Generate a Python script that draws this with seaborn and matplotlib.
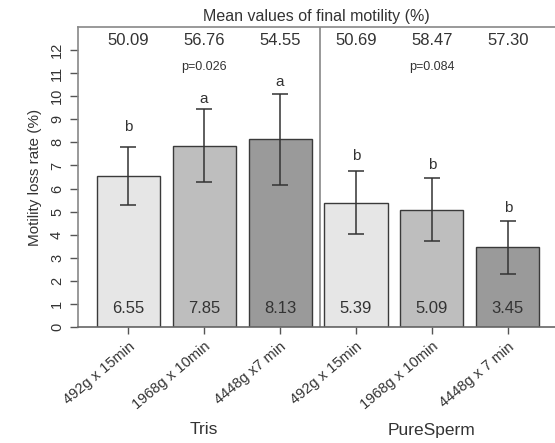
import pandas as pd
import numpy as np
import seaborn as sns
import matplotlib.pyplot as plt
from matplotlib.transforms import blended_transform_factory

# ---------------------------------------------------------------
# DATA
# ---------------------------------------------------------------
media = ["Tris", "PureSperm"]
conditions = ["492g x 15min", "1968g x 10min", "4448g x7 min",
              "492g x 15min", "1968g x 10min", "4448g x 7 min"]
loss_rate = [6.55, 7.85, 8.13, 5.39, 5.09, 3.45]
loss_err = [1.25, 1.58, 1.98, 1.37, 1.37, 1.15]
letters = ["b", "a", "a", "b", "b", "b"]
letter_y = [8.65, 9.9, 10.6, 7.4, 7.0, 5.15]
final_motility = ["50.09", "56.76", "54.55", "50.69", "58.47", "57.30"]
p_values = ["p=0.026", "p=0.084"]
bar_colors = ["#e6e6e6", "#bebebe", "#9a9a9a", "#e6e6e6", "#bebebe", "#9a9a9a"]

df = pd.DataFrame({
    "bar": [f"{m}|{c}" for m, c in zip(np.repeat(media, 3), conditions)],
    "loss": loss_rate,
})

# ---------------------------------------------------------------
# PLOT
# ---------------------------------------------------------------
sns.set_style("white")
plt.rcParams["font.family"] = ["Liberation Sans", "DejaVu Sans"]

fig = plt.figure(figsize=(5.55, 4.43), dpi=100)
ax = fig.add_axes([78 / 555, 1 - 327 / 443, 477 / 555, 300 / 443])

sns.barplot(data=df, x="bar", y="loss", hue="bar", palette=bar_colors,
            width=0.83, edgecolor="#3a3a3a", linewidth=1.0,
            errorbar=None, legend=False, ax=ax)

x = np.arange(len(loss_rate))
ax.errorbar(x, loss_rate, yerr=loss_err, fmt="none", ecolor="#333333",
            elinewidth=1.1, capsize=5.5, capthick=1.1)

ax.set_xlim(-0.66, 5.62)
ax.set_ylim(0, 13)
ax.set_yticks(range(0, 13))
ax.set_yticklabels([str(i) for i in range(0, 13)], rotation=90,
                   va="center", fontsize=10.5, color="#333333")
ax.set_xticks(x)
ax.set_xticklabels(conditions, rotation=40, ha="right",
                   rotation_mode="anchor", fontsize=10.5, color="#333333")
ax.tick_params(axis="y", direction="out", length=6, width=1,
               color="#555555", pad=4, left=True)
ax.tick_params(axis="x", direction="out", length=5, width=1,
               color="#555555", pad=4, bottom=True)
ax.set_xlabel("")
ax.set_ylabel("Motility loss rate (%)", fontsize=11, color="#333333",
              labelpad=6)

for side in ["top", "left", "bottom"]:
    ax.spines[side].set_visible(True)
    ax.spines[side].set_color("#888888")
    ax.spines[side].set_linewidth(1.2)
ax.spines["bottom"].set_color("#666666")
ax.spines["right"].set_visible(False)

# separator between media
ax.axvline(2.52, color="#888888", lw=1.2)

# text annotations
for i in x:
    ax.text(i, 12.43, final_motility[i], ha="center", va="center",
            fontsize=12, color="#333333")
    ax.text(i, 0.8, f"{loss_rate[i]:.2f}", ha="center", va="center",
            fontsize=12, color="#333333")
    ax.text(i, letter_y[i], letters[i], ha="center", va="center",
            fontsize=11, color="#333333")

ax.text(1, 11.27, p_values[0], ha="center", va="center", fontsize=9,
        color="#333333")
ax.text(4, 11.27, p_values[1], ha="center", va="center", fontsize=9,
        color="#333333")

ax.text(0.5, 1 + 11 / 300, "Mean values of final motility (%)",
        transform=ax.transAxes, ha="center", va="center", fontsize=11.5,
        color="#333333")

group_tr = blended_transform_factory(ax.transData, fig.transFigure)
for j, m in enumerate(media):
    ax.text(1 + 3 * j, 1 - 430 / 443, m, ha="center", va="center",
            fontsize=12.5, color="#333333", transform=group_tr)

fig.savefig("out.png", dpi=100)
